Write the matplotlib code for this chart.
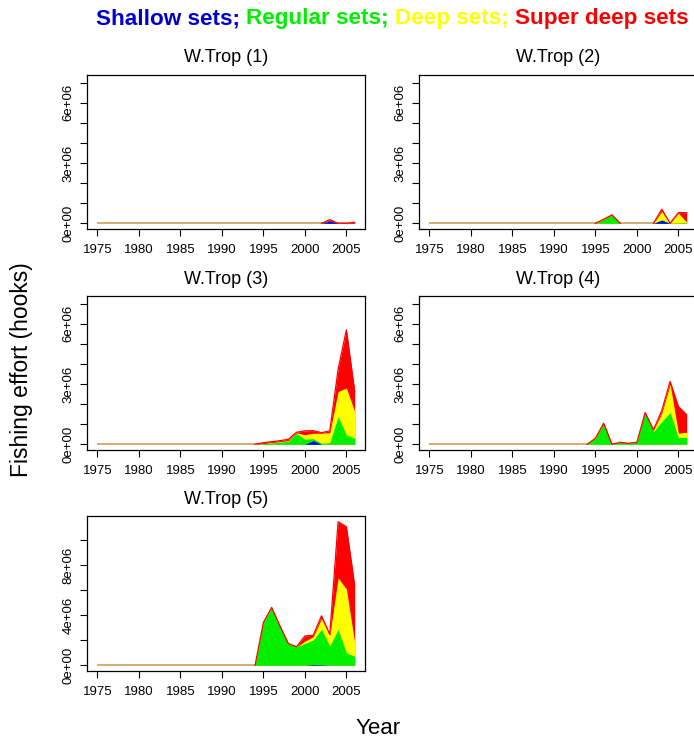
import numpy as np
import matplotlib.pyplot as plt

plt.rcParams['font.family'] = ['Liberation Sans', 'DejaVu Sans']

years = np.arange(1975, 2007)

# fishing effort, millions of hooks, 1975-2006
trop1_shallow = [0, 0, 0, 0, 0, 0, 0, 0, 0, 0, 0, 0, 0, 0, 0, 0, 0, 0, 0,
                 0, 0, 0, 0, 0, 0, 0, 0, 0, 0.12, 0, 0, 0]
trop1_regular = [0, 0, 0, 0, 0, 0, 0, 0, 0, 0, 0, 0, 0, 0, 0, 0, 0, 0, 0,
                 0, 0, 0, 0, 0, 0, 0, 0, 0, 0, 0, 0, 0]
trop1_deep = [0, 0, 0, 0, 0, 0, 0, 0, 0, 0, 0, 0, 0, 0, 0, 0, 0, 0, 0,
              0, 0, 0, 0, 0, 0, 0, 0, 0, 0, 0, 0, 0]
trop1_super = [0, 0, 0, 0, 0, 0, 0, 0, 0, 0, 0, 0, 0, 0, 0, 0, 0, 0, 0,
               0, 0, 0, 0, 0, 0, 0, 0, 0, 0.06, 0, 0, 0.05]

trop2_shallow = [0, 0, 0, 0, 0, 0, 0, 0, 0, 0, 0, 0, 0, 0, 0, 0, 0, 0, 0,
                 0, 0, 0, 0, 0, 0, 0, 0, 0, 0.15, 0, 0, 0]
trop2_regular = [0, 0, 0, 0, 0, 0, 0, 0, 0, 0, 0, 0, 0, 0, 0, 0, 0, 0, 0,
                 0, 0, 0.2, 0.42, 0, 0, 0, 0, 0, 0.03, 0, 0.02, 0.03]
trop2_deep = [0, 0, 0, 0, 0, 0, 0, 0, 0, 0, 0, 0, 0, 0, 0, 0, 0, 0, 0,
              0, 0, 0, 0, 0, 0, 0, 0, 0, 0.42, 0, 0.48, 0.03]
trop2_super = [0, 0, 0, 0, 0, 0, 0, 0, 0, 0, 0, 0, 0, 0, 0, 0, 0, 0, 0,
               0, 0, 0, 0, 0, 0, 0, 0, 0, 0.10, 0, 0.03, 0.47]

trop3_shallow = [0, 0, 0, 0, 0, 0, 0, 0, 0, 0, 0, 0, 0, 0, 0, 0, 0, 0, 0,
                 0, 0, 0, 0, 0, 0, 0, 0.18, 0, 0, 0, 0, 0]
trop3_regular = [0, 0, 0, 0, 0, 0, 0, 0, 0, 0, 0, 0, 0, 0, 0, 0, 0, 0, 0,
                 0, 0.04, 0.06, 0.10, 0.15, 0.55, 0.25, 0.10, 0.05, 0.08, 1.38, 0.47, 0.30]
trop3_deep = [0, 0, 0, 0, 0, 0, 0, 0, 0, 0, 0, 0, 0, 0, 0, 0, 0, 0, 0,
              0, 0, 0.02, 0.03, 0.04, 0.02, 0.22, 0.27, 0.50, 0.50, 1.25, 2.33, 1.33]
trop3_super = [0, 0, 0, 0, 0, 0, 0, 0, 0, 0, 0, 0, 0, 0, 0, 0, 0, 0, 0,
               0, 0.04, 0.05, 0.05, 0.06, 0.03, 0.20, 0.13, 0.03, 0.09, 1.10, 2.90, 1.00]

trop4_shallow = [0, 0, 0, 0, 0, 0, 0, 0, 0, 0, 0, 0, 0, 0, 0, 0, 0, 0, 0,
                 0, 0, 0, 0, 0, 0, 0, 0, 0, 0, 0, 0, 0]
trop4_regular = [0, 0, 0, 0, 0, 0, 0, 0, 0, 0, 0, 0, 0, 0, 0, 0, 0, 0, 0,
                 0, 0.30, 1.05, 0, 0.10, 0.05, 0.10, 1.58, 0.63, 1.13, 1.58, 0.33, 0.35]
trop4_deep = [0, 0, 0, 0, 0, 0, 0, 0, 0, 0, 0, 0, 0, 0, 0, 0, 0, 0, 0,
              0, 0, 0, 0, 0, 0, 0, 0, 0.07, 0.42, 1.42, 0.22, 0.25]
trop4_super = [0, 0, 0, 0, 0, 0, 0, 0, 0, 0, 0, 0, 0, 0, 0, 0, 0, 0, 0,
               0, 0, 0, 0, 0, 0, 0, 0, 0.02, 0.13, 0.13, 1.33, 0.87]

trop5_shallow = [0, 0, 0, 0, 0, 0, 0, 0, 0, 0, 0, 0, 0, 0, 0, 0, 0, 0, 0,
                 0, 0, 0, 0, 0, 0, 0, 0.05, 0.03, 0, 0, 0, 0]
trop5_regular = [0, 0, 0, 0, 0, 0, 0, 0, 0, 0, 0, 0, 0, 0, 0, 0, 0, 0, 0,
                 0, 3.41, 4.62, 3.14, 1.74, 1.48, 1.74, 1.96, 2.84, 1.53, 2.87, 0.99, 0.72]
trop5_deep = [0, 0, 0, 0, 0, 0, 0, 0, 0, 0, 0, 0, 0, 0, 0, 0, 0, 0, 0,
              0, 0, 0, 0, 0, 0, 0.19, 0.27, 0.86, 0.86, 4.11, 5.10, 1.08]
trop5_super = [0, 0, 0, 0, 0, 0, 0, 0, 0, 0, 0, 0, 0, 0, 0, 0, 0, 0, 0,
               0, 0, 0, 0, 0, 0, 0.41, 0.11, 0.22, 0.08, 4.48, 4.97, 4.56]

panel_titles = ["W.Trop (1)", "W.Trop (2)", "W.Trop (3)", "W.Trop (4)", "W.Trop (5)"]
panel_data = [
    (trop1_shallow, trop1_regular, trop1_deep, trop1_super),
    (trop2_shallow, trop2_regular, trop2_deep, trop2_super),
    (trop3_shallow, trop3_regular, trop3_deep, trop3_super),
    (trop4_shallow, trop4_regular, trop4_deep, trop4_super),
    (trop5_shallow, trop5_regular, trop5_deep, trop5_super),
]

xticks = [1975, 1980, 1985, 1990, 1995, 2000, 2005]
yticks_a = [0, 1e6, 2e6, 3e6, 4e6, 5e6, 6e6, 7e6]
ylabels_a = ["0e+00", "", "", "3e+06", "", "", "6e+06", ""]
yticks_b = [0, 2e6, 4e6, 6e6, 8e6, 1e7]
ylabels_b = ["0e+00", "", "4e+06", "", "8e+06", ""]
ymax_shared = 7.1e6

col_blue = "#0000FF"
col_green = "#00EE00"
col_yellow = "#FFFF00"
col_red = "#FF0000"
col_base = "#C8A05A"

W, H = 694, 742
fig = plt.figure(figsize=(W / 100, H / 100), dpi=100)

# axes boxes in pixels: left, top, right, bottom
boxes = [(87, 75, 365, 229), (419, 75, 697, 229),
         (87, 296, 365, 450), (419, 296, 697, 450),
         (87, 516, 365, 671)]

for i, (box, title, series) in enumerate(zip(boxes, panel_titles, panel_data)):
    l, t, r, b = box
    ax = fig.add_axes([l / W, 1 - b / H, (r - l) / W, (b - t) / H])

    shallow, regular, deep, superdeep = [np.array(s) * 1e6 for s in series]
    c1 = shallow
    c2 = c1 + regular
    c3 = c2 + deep
    c4 = c3 + superdeep

    ax.hlines(0, years.min(), years.max(), color=col_base, lw=1.2, zorder=1)
    ax.fill_between(years, 0, c4, color=col_red, lw=0, zorder=2)
    ax.fill_between(years, 0, c3, color=col_yellow, lw=0, zorder=2)
    ax.fill_between(years, 0, c2, color=col_green, lw=0, zorder=2)
    ax.fill_between(years, 0, c1, color=col_blue, lw=0, zorder=2)

    # red outline along the top, only around non-zero parts
    nz = c4 > 0
    keep = nz | np.r_[nz[1:], False] | np.r_[False, nz[:-1]]
    ax.plot(years, np.ma.masked_where(~keep, c4), color=col_red, lw=0.9, zorder=3)

    span = years.max() - years.min()
    ax.set_xlim(years.min() - 0.04 * span, years.max() + 0.04 * span)
    if i < 4:
        ymax = ymax_shared
        ax.set_yticks(yticks_a)
        ax.set_yticklabels(ylabels_a, rotation=90, va='center')
    else:
        ymax = c4.max()
        ax.set_yticks(yticks_b)
        ax.set_yticklabels(ylabels_b, rotation=90, va='center')
    ax.set_ylim(-0.04 * ymax, 1.04 * ymax)
    ax.set_xticks(xticks)
    ax.set_xticklabels([str(x) for x in xticks])

    ax.tick_params(direction='out', length=5, width=0.8, labelsize=9.5, color='black')
    ax.tick_params(axis='x', pad=6)
    ax.tick_params(axis='y', pad=4)
    for sp in ax.spines.values():
        sp.set_linewidth(0.9)
        sp.set_color('black')

    # panel title sits ~17 px above the box
    ax.text(0.5, 1 + 17 / (b - t), title, transform=ax.transAxes,
            ha='center', va='center', fontsize=13)

fig.text(22 / W, 1 - 370 / H, "Fishing effort (hooks)", rotation=90,
         ha='center', va='center', fontsize=16.5)
fig.text(378 / W, 1 - 728 / H, "Year", ha='center', va='center', fontsize=16)

# coloured header, placed piece by piece
pieces = [("Shallow sets;", "#0000CD"), ("Regular sets;", col_green),
          ("Deep sets;", col_yellow), ("Super deep sets", col_red)]
fig.canvas.draw()
renderer = fig.canvas.get_renderer()
tp = dict(fontsize=16.2, fontweight='bold', va='baseline')
w1 = fig.text(0, 0, "aa", **tp)
w2 = fig.text(0, 0, "a a", **tp)
space = (w2.get_window_extent(renderer).width - w1.get_window_extent(renderer).width)
w1.remove()
w2.remove()
x = 96.0
for txt, col in pieces:
    tt = fig.text(x / W, 1 - 24 / H, txt, color=col, **tp)
    x = tt.get_window_extent(renderer).x1 + space

fig.savefig("out.png", dpi=100)
